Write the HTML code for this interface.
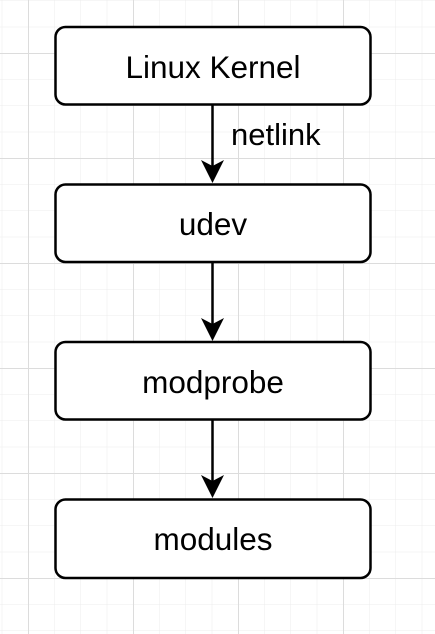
<!DOCTYPE html>
<html><head><style>
html,body{margin:0;padding:0;width:435px;height:634px;overflow:hidden;background:#fff;}
</style></head><body>
<svg width="435" height="634" xmlns="http://www.w3.org/2000/svg" font-family="Liberation Sans, Arial, sans-serif">
<defs>
<pattern id="g" x="1.75" y="0.5" width="26.25" height="26.25" patternUnits="userSpaceOnUse">
<path d="M0 0H26.25M0 0V26.25" stroke="#ececec" stroke-width="1" fill="none"/>
</pattern>
<pattern id="G" x="28" y="53" width="105" height="105" patternUnits="userSpaceOnUse">
<path d="M0 0.5H105M0.5 0V105" stroke="#dcdcdc" stroke-width="1" fill="none"/>
</pattern>
</defs>
<rect width="435" height="634" fill="url(#g)"/>
<rect width="435" height="634" fill="url(#G)"/>
<g stroke="#000" stroke-width="2.5" fill="#fff">
<rect x="55.5" y="27" width="315" height="77.5" rx="10"/>
<rect x="55.5" y="184.5" width="315" height="77.5" rx="10"/>
<rect x="55.5" y="342" width="315" height="77.5" rx="10"/>
<rect x="55.5" y="499.5" width="315" height="78.5" rx="10"/>
</g>
<g stroke="#000" stroke-width="2.5">
<line x1="212.5" y1="105" x2="212.5" y2="166"/>
<line x1="212.5" y1="263" x2="212.5" y2="324"/>
<line x1="212.5" y1="420" x2="212.5" y2="481"/>
</g>
<g fill="#000">
<path d="M201 160L212.5 166L224 160L212.5 183Z"/>
<path d="M201 318L212.5 324L224 318L212.5 341Z"/>
<path d="M201 475L212.5 481L224 475L212.5 498Z"/>
</g>
<g font-size="31.5" text-anchor="middle" fill="#000">
<text x="213" y="78">Linux Kernel</text>
<text x="213" y="235">udev</text>
<text x="213" y="393">modprobe</text>
<text x="213" y="550">modules</text>
</g>
<text x="231" y="145" font-size="31" fill="#000">netlink</text>
</svg>
</body></html>
